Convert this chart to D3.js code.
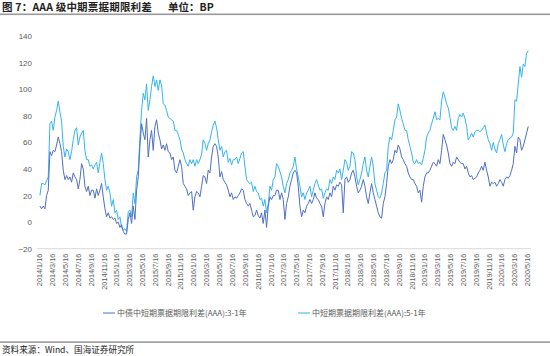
<!DOCTYPE html>
<html><head><meta charset="utf-8">
<script src="https://cdn.jsdelivr.net/npm/d3@7"></script>
<style>body{margin:0;background:#fff}svg{display:block}</style>
</head><body><svg id="c" width="550" height="356"></svg>
<script>
// 中债中短期票据期限利差(AAA):3-1年 (approx. weekly readings)
const series31 = [
 12,10,12,10,20,24,
 53,50,54,53,58,64,59,53,
 39,32,35,32,34,30,37,34,
 32,25,32,44,40,27,23,27,
 20,24,24,18,25,20,24,29,
 19,10,4,7,3,4,2,3,
 -1,0,-4,-2,-7,-9,-9,2,
 7,-1,12,2,24,34,57,74,
 67,62,78,49,62,69,54,72,
 77,67,62,55,58,54,59,53,
 52,47,49,39,37,42,47,42,
 29,27,25,20,22,23,9,19,
 23,22,19,27,35,34,29,39,
 37,49,57,59,57,49,34,38,32,
 30,28,24,19,22,17,19,18,
 20,22,25,24,17,14,12,14,
 9,4,5,9,5,3,7,-1,
 9,-4,12,19,17,20,20,24,
 24,17,22,17,2,14,19,27,
 32,37,39,37,27,12,4,9,
 7,12,14,17,14,17,22,18,17,
 14,12,4,14,19,17,22,19,
 27,24,28,27,30,28,7,32,
 34,30,32,37,39,34,27,22,
 24,27,32,27,19,14,22,29,
 22,17,12,7,4,3,14,19,
 29,42,47,44,47,54,52,58,
 55,49,47,44,42,37,34,32,32,
 29,27,22,24,15,27,34,37,
 37,39,42,45,44,42,47,44,
 54,66,62,58,52,44,42,45,
 44,49,47,45,44,44,40,42,
 37,34,35,32,33,34,37,39,
 42,39,45,39,34,27,30,29,
 30,27,29,32,30,27,32,34,
 33,35,39,44,57,52,64,62,
 54,57,62,67,72
];
// 中短期票据期限利差(AAA):5-1年
const series51 = [
 20,29,29,28,31,34,
 74,76,69,79,84,91,83,76,
 57,49,55,53,47,53,62,69,
 71,58,64,67,69,54,47,47,
 42,43,40,43,45,37,45,52,
 44,32,24,27,22,12,17,7,
 9,2,4,-4,-6,-5,-7,8,
 9,4,22,14,34,39,64,84,
 97,92,104,84,92,102,110,102,
 107,99,107,103,89,88,84,79,
 78,77,76,69,69,66,62,55,
 52,47,44,42,47,44,47,42,
 47,44,47,51,62,59,54,59,
 62,68,73,76,71,62,54,57,49,
 53,54,45,48,43,47,47,49,
 44,48,52,53,42,32,30,29,
 30,23,27,23,22,17,18,12,
 17,7,14,27,24,32,34,44,
 42,38,34,27,22,29,32,37,
 39,42,49,40,34,27,19,22,
 17,22,24,27,19,24,29,32,28,
 24,25,18,22,25,24,32,29,
 34,32,39,37,40,32,39,47,
 45,39,42,53,52,47,34,28,
 32,37,44,49,39,34,42,49,
 42,29,24,19,18,22,29,37,
 39,57,64,62,69,77,79,89,
 84,78,74,69,69,62,57,52,45,
 44,47,44,45,43,48,54,64,
 67,69,74,78,83,77,78,77,
 91,98,94,89,86,79,71,69,
 72,69,78,81,79,82,78,72,
 62,64,67,64,68,69,69,68,
 69,71,73,67,62,59,54,60,
 55,52,59,62,66,58,53,59,
 62,63,64,67,92,91,104,117,
 109,119,117,127,129
];
const startDate = "2014-01-18", endDate = "2020-05-22";
const firstTick = "2014-01-16", lastTick = "2020-05-16";
const yTicks = [-20, 0, 20, 40, 60, 80, 100, 120, 140];
const legendLabels = ["中债中短期票据期限利差(AAA):3-1年", "中短期票据期限利差(AAA):5-1年"];
const colors = ["#4f6fc6", "#33b5ee"];
const titleText = "图 7：AAA 级中期票据期限利差";
const unitText = "单位：BP";
const sourceText = "资料来源：Wind、国海证券研究所";

const svg = d3.select("#c");
const parse = d3.timeParse("%Y-%m-%d");
const x = d3.scaleTime().domain([parse(firstTick), parse(lastTick)]).range([39.5, 527]);
const y = d3.scaleLinear().domain([-20, 140]).range([248.7, 36]);
const n = Math.min(series31.length, series51.length);
const t0 = parse(startDate), t1 = parse(endDate);
const dates = d3.range(n).map(i => new Date(+t0 + (t1 - t0) * i / (n - 1)));
const cjk = "'Noto Sans CJK SC','Noto Sans',sans-serif";
const latin = "'Liberation Sans','Noto Sans CJK SC',sans-serif";

// title
svg.append("text").attr("x", 2).attr("y", 10.5)
  .style("font-family", cjk).style("font-size", "10.5px").style("font-weight", "bold")
  .style("letter-spacing", "0.2px").attr("fill", "#222")
  .text(titleText);
svg.append("text").attr("x", 168).attr("y", 10.5)
  .style("font-family", cjk).style("font-size", "10.5px").style("font-weight", "bold").attr("fill", "#222")
  .text(unitText);
svg.append("rect").attr("x", 0).attr("y", 13.5).attr("width", 550).attr("height", 1.6).attr("fill", "#9a9a9a");

// y axis labels
const yAxis = d3.axisLeft(y).tickValues(yTicks).tickSize(0).tickPadding(0);
const yg = svg.append("g").attr("transform", "translate(32,0)").call(yAxis);
yg.select(".domain").remove();
yg.selectAll("text").style("font-family", latin).style("font-size", "8px").attr("fill", "#595959");

// x axis
const tickDates = d3.timeMonth.every(2).range(new Date(2014, 0, 1), new Date(2020, 5, 1))
  .map(d => new Date(d.getFullYear(), d.getMonth(), 16));
const fmt = d => `${d.getFullYear()}/${d.getMonth() + 1}/${d.getDate()}`;
const xAxis = d3.axisBottom(x).tickValues(tickDates).tickFormat(fmt).tickSize(0).tickPadding(0);
const xg = svg.append("g").attr("transform", `translate(0,${y(-20)})`).call(xAxis);
xg.select(".domain").remove();
svg.append("line").attr("x1", 37).attr("x2", 531).attr("y1", y(-20)).attr("y2", y(-20))
  .attr("stroke", "#d9d9d9").attr("stroke-width", 1);
xg.selectAll("text")
  .style("font-family", latin).style("font-size", "7.3px").attr("fill", "#595959")
  .attr("text-anchor", "end").attr("dy", "0.33em")
  .attr("transform", "translate(0,5) rotate(-90)").attr("x", 0).attr("y", 0);

// lines
const line = vals => d3.line().x((d, i) => x(dates[i])).y(d => y(d))(vals.slice(0, n));
svg.append("path").attr("d", line(series51)).attr("fill", "none").attr("stroke", colors[1]).attr("stroke-width", 1);
svg.append("path").attr("d", line(series31)).attr("fill", "none").attr("stroke", colors[0]).attr("stroke-width", 1);

// legend
const leg = [{x: 103, c: colors[0], t: legendLabels[0]}, {x: 298, c: colors[1], t: legendLabels[1]}];
leg.forEach(l => {
  svg.append("line").attr("x1", l.x).attr("x2", l.x + 12).attr("y1", 313).attr("y2", 313)
    .attr("stroke", l.c).attr("stroke-width", 1);
  svg.append("text").attr("x", l.x + 14).attr("y", 313).attr("dy", "0.35em")
    .style("font-family", cjk).style("font-size", "8px").attr("fill", "#595959").text(l.t);
});

// footer
svg.append("rect").attr("x", 0).attr("y", 341.3).attr("width", 550).attr("height", 1.6).attr("fill", "#9a9a9a");
svg.append("text").attr("x", 2).attr("y", 350).attr("dy", "0.35em")
  .style("font-family", cjk).style("font-size", "8.6px").attr("fill", "#222").text(sourceText);
</script></body></html>
